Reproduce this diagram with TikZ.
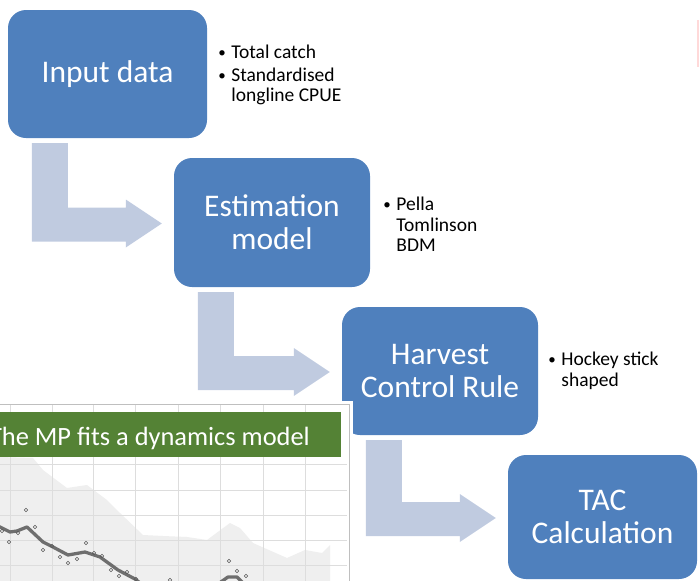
\documentclass[tikz,border=0pt]{standalone}
\usepackage{fontspec}
\setmainfont{Carlito}
\usepackage{xcolor}
\usetikzlibrary{positioning,calc}
\definecolor{boxblue}{HTML}{4F80BD}
\definecolor{arrowblue}{HTML}{C0CBE0}
\definecolor{titlegreen}{HTML}{548235}
\definecolor{plotshade}{HTML}{EFEFEF}
\definecolor{plotgrid}{HTML}{DDDDDD}
\definecolor{plotline}{HTML}{6E6E6E}
\definecolor{pinkstrip}{HTML}{FFD9D9}
\newcommand{\itm}{\makebox[13pt][l]{\raisebox{1pt}{\fontsize{15}{15}\selectfont\textbullet}}}
\newcommand{\bentarrow}[2]{%
  \fill[flowarrow] let \p1=(#1.south west), \p2=(#2.west) in
    (\x1+24pt,\y1-5pt) -- (\x1+60pt,\y1-5pt) -- (\x1+60pt,\y2+15pt)
    -- (\x2-48pt,\y2+15pt) -- (\x2-48pt,\y2+23pt) -- (\x2-12pt,\y2-1pt)
    -- (\x2-48pt,\y2-25pt) -- (\x2-48pt,\y2-19pt) -- (\x1+24pt,\y2-19pt) -- cycle;}

\begin{document}
\begin{tikzpicture}[x=1pt, y=-1pt,
  stage/.style = {fill=boxblue, rounded corners=18pt, text=white, align=center,
    minimum width=197pt, minimum height=128pt, inner sep=0pt,
    font=\fontsize{31.5}{33}\selectfont},
  notes/.style = {align=left, inner sep=0pt, font=\fontsize{19.5}{20.5}\selectfont},
  flowarrow/.style = {fill=arrowblue}
]
\useasboundingbox (0,0) rectangle (699,581);
\fill[pinkstrip] (697,20) rectangle (699,67);

% the four steps
\node[stage, minimum width=199pt] (input) at (107.5,74) {Input data};
\node[stage, minimum width=196pt, minimum height=129pt] (estim) at (272,222.5) {Estimation\\model};
\node[stage, minimum width=196pt] (hcr) at (440,371) {Harvest\\Control Rule};
\node[stage, minimum width=189pt, minimum height=124pt] (tac) at (602.5,517) {TAC\\Calculation};

\node[notes, below right=35pt and 11pt of input.north east] (inputnotes)
  {\itm Total catch\\[2pt] \itm Standardised\\ \hspace*{13pt}longline CPUE};
\node[notes, below right=39pt and 13pt of estim.north east] (estimnotes)
  {\itm Pella\\ \hspace*{13pt}Tomlinson\\ \hspace*{13pt}BDM};
\node[notes, below right=45pt and 10pt of hcr.north east] (hcrnotes)
  {\itm Hockey stick\\ \hspace*{13pt}shaped};

\bentarrow{input}{estim}
\bentarrow{estim}{hcr}
\bentarrow{hcr}{tac}

% plot inset
\begin{scope}
  \clip (0,401) rectangle (353,581);
  \fill[white] (0,401) rectangle (353,581);
  \fill[plotshade] (0,457) -- (33,458) -- (43,470) -- (67,488) -- (87,485) -- (107,500)
    -- (120,513) -- (143,535) -- (163,536) -- (187,537) -- (207,540) -- (230,523)
    -- (240,528) -- (253,543) -- (287,558) -- (305,550) -- (322,553) -- (330,545)
    -- (330,590) -- (0,590) -- cycle;
  \foreach \gx in {10,52,93,135,178,220,263,305}
    \draw[plotgrid, line width=0.8pt] (\gx,404) -- (\gx,585);
  \foreach \gy in {464,490,515,540,565}
    \draw[plotgrid, line width=0.8pt] (0,\gy) -- (347,\gy);
  \draw[plotline, line width=3.3pt, line join=round]
    (-2,526) -- (10,532) -- (17,531) -- (27,527) -- (43,542) -- (53,547) -- (68,555)
    -- (85,552) -- (100,557) -- (118,570) -- (135,579) -- (140,583);
  \draw[plotline, line width=3.3pt, line join=round]
    (218,584) -- (228,577) -- (237,577) -- (244,584);
  \foreach \px/\py in {26/510,35/527,18/533,9/542,2/531,43/550,52/546,60/557,68/563,
      77/559,86/543,94/553,102/556,111/570,119/576,127/572,136/579,170/580,
      229/561,237/571,246/576}
    \draw[plotline!80!black, line width=0.6pt] (\px,\py) circle (1.7pt);
  \draw[gray!50, line width=1pt] (-1,404) -- (349,404) -- (349,585);
  \fill[titlegreen] (-1,412) rectangle (341,457);
  \node[anchor=base east, inner sep=0pt, text=white, font=\fontsize{26.4}{30}\selectfont]
    (plottitle) at (310,445) {The MP fits a dynamics model};
\end{scope}
\end{tikzpicture}
\end{document}
